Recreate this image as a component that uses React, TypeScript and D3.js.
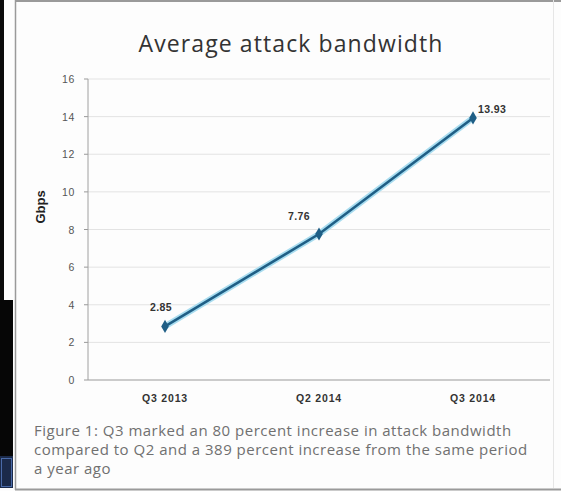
import React from "react";
import * as d3 from "d3";

// Chart data
const quarters: string[] = ["Q3 2013", "Q2 2014", "Q3 2014"];
const bandwidthGbps: number[] = [2.85, 7.76, 13.93];
const yTicks: number[] = [0, 2, 4, 6, 8, 10, 12, 14, 16];
const captionLines: string[] = [
  "Figure 1: Q3 marked an 80 percent increase in attack bandwidth",
  "compared to Q2 and a 389 percent increase from the same period",
  "a year ago",
];

const W = 561;
const H = 491;
const plot = { left: 88, right: 550, top: 79, bottom: 380 };

// per-point label placement (dx, dy, anchor)
const labelPlacement: [number, number, string][] = [
  [-4, -15, "middle"],
  [-20, -14, "middle"],
  [5, -5, "start"],
];

export default function App() {
  const x = d3
    .scalePoint<string>()
    .domain(quarters)
    .range([plot.left, plot.right])
    .padding(0.5);
  const y = d3.scaleLinear().domain([0, 16]).range([plot.bottom, plot.top]);

  const pts = quarters.map((q, i) => [x(q) as number, y(bandwidthGbps[i])] as [number, number]);
  const linePath = d3.line()(pts) || "";
  const diamond = d3.symbol(d3.symbolDiamond, 50)() || "";

  const tickFont = "'Liberation Sans', Arial, sans-serif";

  return (
    <div style={{ position: "fixed", left: 0, top: 0 }}>
      <svg width={W} height={H} style={{ display: "block" }}>
        {/* page background and frame */}
        <rect x={0} y={0} width={W} height={H} fill="#fdfdfd" />
        <rect x={0} y={0} width={4} height={300} fill="#0a0a0a" />
        <rect x={0} y={300} width={13} height={156} fill="#060606" />
        <rect x={0} y={456} width={13} height={32} fill="#1b2a4a" />
        <rect x={1.5} y={458.5} width={10} height={28} fill="none" stroke="#4a6aa8" strokeWidth={1} />
        <line x1={15.5} x2={15.5} y1={0} y2={490} stroke="#9a9a9a" strokeWidth={1.5} />
        <line x1={15} x2={561} y1={1} y2={1} stroke="#9a9a9a" strokeWidth={2} />
        <line x1={553.5} x2={553.5} y1={0} y2={488} stroke="#e6e6e6" strokeWidth={1} />
        <line x1={15} x2={561} y1={489.5} y2={489.5} stroke="#9a9a9a" strokeWidth={2} />

        {/* title */}
        <text
          x={291}
          y={52}
          textAnchor="middle"
          fontFamily="'Open Sans', Lato, sans-serif"
          fontSize={23}
          letterSpacing={1.1}
          fill="#333"
        >
          Average attack bandwidth
        </text>

        {/* gridlines and y ticks */}
        {yTicks.map((t) => (
          <g key={t}>
            {t > 0 && (
              <line x1={plot.left} x2={plot.right} y1={y(t)} y2={y(t)} stroke="#e3e3e3" strokeWidth={1} />
            )}
            <line x1={plot.left - 4} x2={plot.left} y1={y(t)} y2={y(t)} stroke="#999" strokeWidth={1} />
            <text
              x={plot.left - 13}
              y={y(t) + 4}
              textAnchor="end"
              fontFamily={tickFont}
              fontSize={10.5}
              letterSpacing={0.6}
              fill="#555"
            >
              {t}
            </text>
          </g>
        ))}

        {/* axes */}
        <line x1={plot.left} x2={plot.left} y1={plot.top} y2={plot.bottom} stroke="#a0a0a0" strokeWidth={1} />
        <line x1={plot.left} x2={plot.right} y1={plot.bottom} y2={plot.bottom} stroke="#999" strokeWidth={1.2} />

        {/* x labels */}
        {quarters.map((q) => (
          <text
            key={q}
            x={x(q) as number}
            y={402}
            textAnchor="middle"
            fontFamily={tickFont}
            fontWeight="bold"
            fontSize={10.5}
            letterSpacing={0.8}
            fill="#333"
          >
            {q}
          </text>
        ))}

        {/* y-axis title */}
        <text
          transform="translate(45,207) rotate(-90)"
          textAnchor="middle"
          fontFamily={tickFont}
          fontWeight="bold"
          fontSize={13}
          fill="#222"
        >
          Gbps
        </text>

        {/* series */}
        <path d={linePath} fill="none" stroke="#a8dcef" strokeWidth={6} strokeLinecap="round" />
        <path d={linePath} fill="none" stroke="#1f5f86" strokeWidth={2.6} strokeLinecap="round" />
        {pts.map(([px, py], i) => (
          <path key={i} d={diamond} transform={`translate(${px},${py})`} fill="#1f5f86" />
        ))}

        {/* value labels */}
        {pts.map(([px, py], i) => {
          const [dx, dy, anchor] = labelPlacement[i];
          return (
            <text
              key={i}
              x={px + dx}
              y={py + dy}
              textAnchor={anchor}
              fontFamily={tickFont}
              fontWeight="bold"
              fontSize={10.5}
              letterSpacing={0.4}
              fill="#333"
            >
              {bandwidthGbps[i].toFixed(2)}
            </text>
          );
        })}

        {/* caption */}
        {captionLines.map((line, i) => (
          <text
            key={i}
            x={34}
            y={436 + i * 19}
            fontFamily="'Open Sans', Lato, sans-serif"
            fontSize={15}
            letterSpacing={0.5}
            fill="#707070"
          >
            {line}
          </text>
        ))}
      </svg>
    </div>
  );
}
